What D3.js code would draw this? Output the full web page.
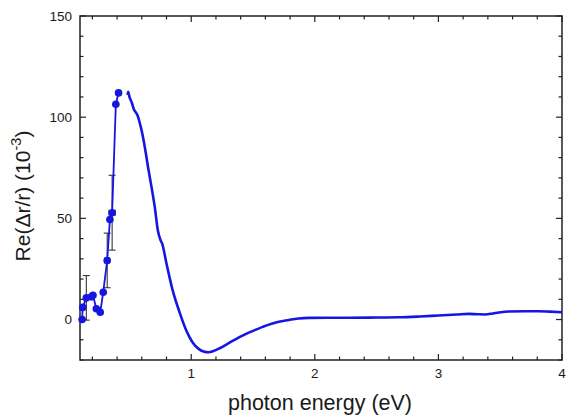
<!DOCTYPE html>
<html>
<head>
<meta charset="utf-8">
<script src="https://cdn.jsdelivr.net/npm/d3@7"></script>
<style>
  body { margin: 0; background: #fff; }
  text { font-family: "Liberation Sans", Arial, sans-serif; fill: #1a1a1a; }
</style>
</head>
<body>
<svg id="chart"></svg>
<script>
// Measured points (low-energy range) with error bars
const pointX = [0.117, 0.122, 0.151, 0.192, 0.205, 0.232, 0.264, 0.288, 0.320, 0.342, 0.360, 0.390, 0.412];
const pointY = [0, 6, 10.7, 11.2, 12, 5.3, 3.6, 13.5, 29.2, 49.4, 52.8, 106.4, 112];
const errIndex = [2, 8, 10];
const errY = [11, 13.5, 18.5];
const errX = [0, 0.02, 0.025];

// Continuous spectrum
const lineX = [0.485, 0.49, 0.50, 0.52, 0.535, 0.55, 0.565, 0.58, 0.60, 0.625, 0.65, 0.68, 0.705, 0.73, 0.75, 0.765,
  0.80, 0.85, 0.91, 0.96, 1.01, 1.06, 1.10, 1.14, 1.18, 1.23, 1.30, 1.39, 1.50, 1.605, 1.70, 1.79, 1.87, 1.955,
  2.1, 2.28, 2.5, 2.68, 2.85, 3.0, 3.15, 3.245, 3.32, 3.38, 3.44, 3.49, 3.57, 3.7, 3.81, 3.9, 4.0];
const lineY = [111, 112.5, 110, 107, 104, 102.5, 101, 98, 93, 85, 75.5, 65, 55.6, 44, 39.5, 37.5,
  27.6, 14.4, 2.8, -5.4, -11.2, -14.5, -15.8, -16.2, -15.6, -14.2, -11.8, -8.7, -5.6, -3, -1.2, -0.2, 0.5, 0.8,
  0.9, 0.9, 1.0, 1.1, 1.5, 2, 2.5, 2.8, 2.6, 2.5, 3.0, 3.5, 4.0, 4.1, 4.1, 3.9, 3.6];

const xMajor = [1, 2, 3, 4];
const yMajor = [0, 50, 100, 150];

const width = 569;
const height = 418;
const margin = { left: 80, right: 7, top: 16, bottom: 58 };
const blue = "#1616e0";

const svg = d3.select("#chart")
    .attr("width", width)
    .attr("height", height);

const x = d3.scaleLinear().domain([0.1, 4]).range([margin.left, width - margin.right]);
const y = d3.scaleLinear().domain([-20, 150]).range([height - margin.bottom, margin.top]);

const x0 = x.range()[0], x1 = x.range()[1];
const y0 = y.range()[0], y1 = y.range()[1];

// Minor tick positions
const xMinor = d3.range(0.2, 4.001, 0.2).filter(v => xMajor.every(m => Math.abs(m - v) > 1e-6));
const yMinor = d3.range(-20, 150.001, 10).filter(v => yMajor.every(m => Math.abs(m - v) > 1e-6));

const axes = svg.append("g").attr("stroke", "#222").attr("stroke-width", 1.2);

// ticks pointing inward on all four sides
function xTicks(vals, len) {
    vals.forEach(v => {
        axes.append("line").attr("x1", x(v)).attr("x2", x(v)).attr("y1", y0).attr("y2", y0 - len);
        axes.append("line").attr("x1", x(v)).attr("x2", x(v)).attr("y1", y1).attr("y2", y1 + len);
    });
}
function yTicks(vals, len) {
    vals.forEach(v => {
        axes.append("line").attr("x1", x0).attr("x2", x0 + len).attr("y1", y(v)).attr("y2", y(v));
        axes.append("line").attr("x1", x1).attr("x2", x1 - len).attr("y1", y(v)).attr("y2", y(v));
    });
}
xTicks(xMajor, 6);
xTicks(xMinor, 3.5);
yTicks(yMajor, 6);
yTicks(yMinor, 3.5);

axes.append("rect")
    .attr("x", x0).attr("y", y1)
    .attr("width", x1 - x0).attr("height", y0 - y1)
    .attr("fill", "none")
    .attr("stroke-width", 1.5);

// tick labels
svg.append("g").selectAll("text")
    .data(xMajor)
    .join("text")
    .attr("x", d => x(d))
    .attr("y", y0 + 18)
    .attr("text-anchor", "middle")
    .attr("font-size", 13.5)
    .text(d => d);

svg.append("g").selectAll("text")
    .data(yMajor)
    .join("text")
    .attr("x", x0 - 8)
    .attr("y", d => y(d))
    .attr("dy", "0.35em")
    .attr("text-anchor", "end")
    .attr("font-size", 13.5)
    .text(d => d);

// axis titles
svg.append("text")
    .attr("x", (x0 + x1) / 2 - 1)
    .attr("y", 410)
    .attr("text-anchor", "middle")
    .attr("font-size", 21.5)
    .text("photon energy (eV)");

const yTitle = svg.append("text")
    .attr("transform", `translate(30, ${(y0 + y1) / 2 + 8}) rotate(-90)`)
    .attr("text-anchor", "middle")
    .attr("font-size", 21);
yTitle.append("tspan").text("Re(\u0394r/r) (10");
yTitle.append("tspan").attr("dy", -9).attr("font-size", 14.5).text("-3");
yTitle.append("tspan").attr("dy", 9).text(")");

// error bars
const eb = svg.append("g").attr("stroke", "#222").attr("stroke-width", 1);
errIndex.forEach((idx, k) => {
    const cx = x(pointX[idx]), lo = y(pointY[idx] - errY[k]), hi = y(pointY[idx] + errY[k]);
    eb.append("line").attr("x1", cx).attr("x2", cx).attr("y1", lo).attr("y2", hi);
    eb.append("line").attr("x1", cx - 3.5).attr("x2", cx + 3.5).attr("y1", lo).attr("y2", lo);
    eb.append("line").attr("x1", cx - 3.5).attr("x2", cx + 3.5).attr("y1", hi).attr("y2", hi);
    if (errX[k] > 0) {
        const cy = y(pointY[idx]), l = x(pointX[idx] - errX[k]), r = x(pointX[idx] + errX[k]);
        eb.append("line").attr("x1", l).attr("x2", r).attr("y1", cy).attr("y2", cy);
        eb.append("line").attr("x1", l).attr("x2", l).attr("y1", cy - 3).attr("y2", cy + 3);
        eb.append("line").attr("x1", r).attr("x2", r).attr("y1", cy - 3).attr("y2", cy + 3);
    }
});

// connected points
const points = pointX.map((v, i) => [v, pointY[i]]);
const lineGen = d3.line().x(d => x(d[0])).y(d => y(d[1]));

svg.append("path")
    .datum(points)
    .attr("d", lineGen)
    .attr("fill", "none")
    .attr("stroke", blue)
    .attr("stroke-width", 1.8);

svg.append("g").selectAll("circle")
    .data(points)
    .join("circle")
    .attr("cx", d => x(d[0]))
    .attr("cy", d => y(d[1]))
    .attr("r", 3.8)
    .attr("fill", blue);

// continuous curve
const curve = lineX.map((v, i) => [v, lineY[i]]);
svg.append("path")
    .datum(curve)
    .attr("d", lineGen.curve(d3.curveMonotoneX))
    .attr("fill", "none")
    .attr("stroke", blue)
    .attr("stroke-width", 2.6)
    .attr("stroke-linejoin", "round");
</script>
</body>
</html>
